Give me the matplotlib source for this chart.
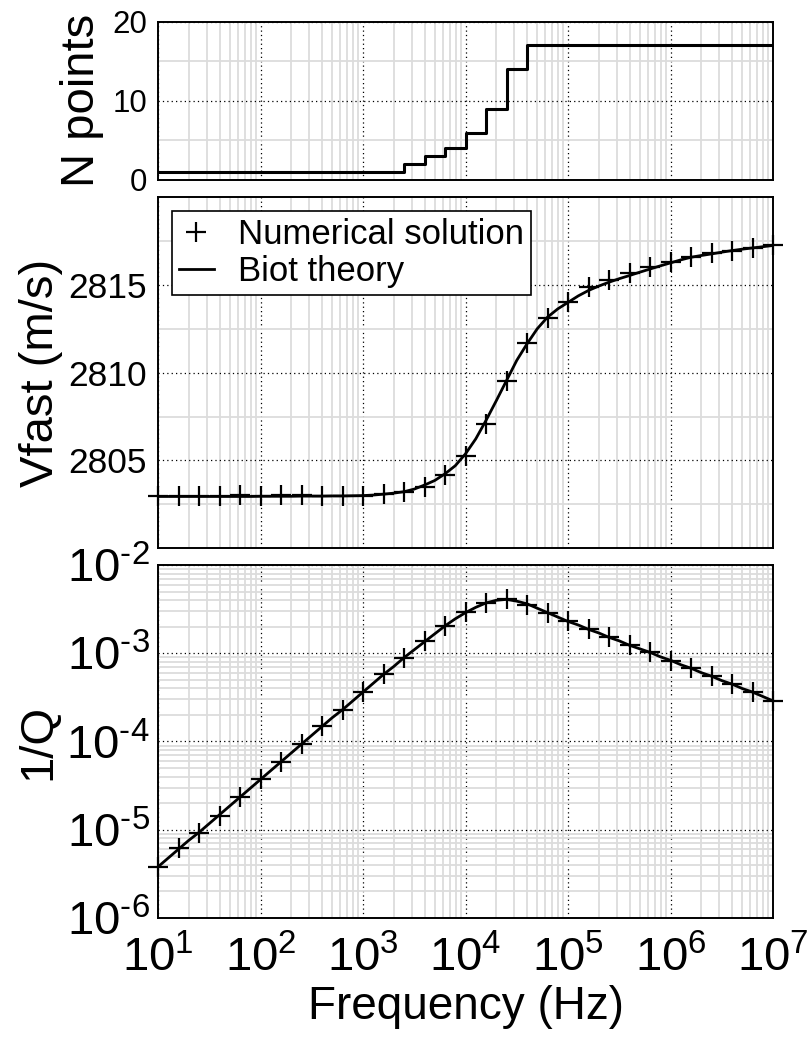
import numpy as np
import matplotlib
matplotlib.use("Agg")
import matplotlib.pyplot as plt
from matplotlib.ticker import FixedLocator, LogLocator, NullFormatter, FuncFormatter
from matplotlib.lines import Line2D

# ---------------------------------------------------------------- data
# sample frequencies of the numerical solution (0.2-decade spacing)
freq_num = np.logspace(1, 7, 31)
# frequencies of the analytical curve (0.1-decade spacing)
freq_biot = np.logspace(1, 7, 61)

# number of points per wavelength used at each frequency
n_points = [1, 1, 1, 1, 1, 1, 1, 1, 1, 1, 1, 1, 2, 3, 4, 6, 9, 14, 17, 17,
            17, 17, 17, 17, 17, 17, 17, 17, 17, 17, 17]

# fast P-wave velocity (m/s)
vfast_num = [2802.95, 2802.95, 2803.0, 2803.0, 2803.05, 2802.95, 2803.05, 2803.05,
             2803.0, 2802.95, 2803.0, 2803.1, 2803.2, 2803.5, 2804.15, 2805.25,
             2807.1, 2809.55, 2811.7, 2813.1, 2814.05, 2814.87, 2815.25, 2815.66,
             2816.0, 2816.3, 2816.57, 2816.8, 2816.95, 2817.1, 2817.25]
vfast_biot = [2802.95, 2802.95, 2802.95, 2802.95, 2802.95, 2802.95, 2802.95, 2802.95,
              2802.95, 2802.95, 2802.96, 2802.96, 2802.96, 2802.96, 2802.97, 2802.97,
              2802.97, 2802.98, 2802.98, 2802.99, 2803.0, 2803.03, 2803.08, 2803.14,
              2803.22, 2803.37, 2803.6, 2803.86, 2804.24, 2804.7, 2805.38, 2806.23,
              2807.28, 2808.4, 2809.55, 2810.7, 2811.64, 2812.5, 2813.16, 2813.63,
              2814.0, 2814.37, 2814.68, 2814.93, 2815.15, 2815.35, 2815.53, 2815.72,
              2815.9, 2816.08, 2816.25, 2816.42, 2816.57, 2816.67, 2816.76, 2816.86,
              2816.95, 2817.03, 2817.1, 2817.17, 2817.24]

# attenuation 1/Q, stored as log10 values
invq_num_log10 = [-5.42, -5.21, -5.04, -4.84, -4.63, -4.43, -4.23, -4.03, -3.83, -3.64,
                  -3.44, -3.24, -3.05, -2.86, -2.69, -2.53, -2.43, -2.39, -2.45, -2.54,
                  -2.63, -2.73, -2.82, -2.905, -2.99, -3.09, -3.17, -3.26, -3.35, -3.44,
                  -3.54]
invq_biot_log10 = [-5.42, -5.32, -5.22, -5.12, -5.03, -4.93, -4.83, -4.73, -4.63, -4.53,
                   -4.43, -4.33, -4.23, -4.13, -4.03, -3.93, -3.83, -3.73, -3.64, -3.54,
                   -3.44, -3.34, -3.24, -3.15, -3.05, -2.96, -2.87, -2.78, -2.69, -2.61,
                   -2.54, -2.48, -2.43, -2.40, -2.39, -2.41, -2.44, -2.49, -2.54, -2.59,
                   -2.64, -2.68, -2.73, -2.77, -2.82, -2.86, -2.91, -2.95, -2.99, -3.04,
                   -3.08, -3.13, -3.17, -3.22, -3.26, -3.31, -3.35, -3.40, -3.44, -3.49,
                   -3.54]

# ---------------------------------------------------------------- style
plt.rcParams['font.family'] = ['Liberation Sans', 'DejaVu Sans']
plt.rcParams['mathtext.fontset'] = 'custom'
plt.rcParams['mathtext.rm'] = 'Liberation Sans'
plt.rcParams['mathtext.it'] = 'Liberation Sans'
plt.rcParams['mathtext.default'] = 'regular'

BIG_FS = 34      # power-of-ten tick labels
LABEL_FS = 34    # axis labels
LW = 2.0
MS = 15
MEW = 1.6


def pow10(v, pos):
    """Power-of-ten label with a plain hyphen for negative exponents."""
    n = int(round(np.log10(v)))
    return r'$10^{\text{%d}}$' % n


def style_axes(ax):
    ax.set_xscale('log')
    ax.set_xlim(1e1, 1e7)
    ax.xaxis.set_major_locator(LogLocator(base=10, numticks=10))
    ax.xaxis.set_minor_locator(LogLocator(base=10, subs=np.arange(2, 10), numticks=20))
    ax.xaxis.set_minor_formatter(NullFormatter())
    ax.xaxis.set_major_formatter(FuncFormatter(pow10))
    ax.set_axisbelow(True)
    ax.grid(which='minor', color='#dcdcdc', linestyle='-', linewidth=1.3)
    ax.grid(which='major', color='black', linestyle=(0, (1, 2.5)), linewidth=0.9)
    ax.tick_params(which='both', direction='in', length=0)
    ax.tick_params(axis='x', pad=13)
    for s in ax.spines.values():
        s.set_linewidth(1.4)


fig = plt.figure(figsize=(8.12, 10.38), dpi=100)
left, width = 0.1946, 0.7574
ax1 = fig.add_axes([left, 0.8266, width, 0.1525])
ax2 = fig.add_axes([left, 0.4718, width, 0.3384])
ax3 = fig.add_axes([left, 0.1156, width, 0.3401])

# ---- top: number of points
style_axes(ax1)
ax1.step(freq_num, n_points, where='post', color='black', linewidth=2.2)
ax1.set_ylim(0, 20)
ax1.yaxis.set_major_locator(FixedLocator([0, 10, 20]))
ax1.yaxis.set_minor_locator(FixedLocator([5, 15]))
ax1.tick_params(axis='y', labelsize=22.5, pad=8)
ax1.tick_params(axis='x', labelbottom=False)
ax1.set_ylabel('N points', fontsize=LABEL_FS, labelpad=6)

# ---- middle: fast wave velocity
style_axes(ax2)
ax2.plot(freq_biot, vfast_biot, color='black', linewidth=LW)
ax2.plot(freq_num, vfast_num, linestyle='none', marker='+', markersize=MS,
         markeredgewidth=MEW, color='black', clip_on=False)
ax2.set_ylim(2800, 2820)
ax2.yaxis.set_major_locator(FixedLocator([2805, 2810, 2815]))
ax2.yaxis.set_minor_locator(FixedLocator([2802.5, 2807.5, 2812.5, 2817.5]))
ax2.tick_params(axis='y', labelsize=25.5, pad=8)
ax2.tick_params(axis='x', labelbottom=False)
ax2.set_ylabel('Vfast (m/s)', fontsize=LABEL_FS, labelpad=4)
handles = [Line2D([], [], linestyle='none', marker='+', markersize=MS,
                  markeredgewidth=MEW, color='black'),
           Line2D([], [], color='black', linewidth=LW)]
leg = ax2.legend(handles, ['Numerical solution', 'Biot theory'], loc='upper left',
                 fontsize=25, frameon=True, fancybox=False, framealpha=1,
                 edgecolor='black', handlelength=1.0, handletextpad=0.7,
                 borderpad=0.2, labelspacing=0.12, borderaxespad=0.4)
leg.get_frame().set_linewidth(1.2)

# ---- bottom: attenuation
style_axes(ax3)
ax3.set_yscale('log')
ax3.plot(freq_biot, 10.0 ** np.array(invq_biot_log10), color='black', linewidth=LW)
ax3.plot(freq_num, 10.0 ** np.array(invq_num_log10), linestyle='none', marker='+',
         markersize=MS, markeredgewidth=MEW, color='black', clip_on=False)
ax3.set_ylim(1e-6, 1e-2)
ax3.yaxis.set_major_locator(LogLocator(base=10, numticks=10))
ax3.yaxis.set_minor_locator(LogLocator(base=10, subs=np.arange(2, 10), numticks=20))
ax3.yaxis.set_minor_formatter(NullFormatter())
ax3.yaxis.set_major_formatter(FuncFormatter(pow10))
ax3.tick_params(axis='x', labelsize=BIG_FS)
ax3.tick_params(axis='y', labelsize=BIG_FS, pad=6)
ax3.set_ylabel('1/Q', fontsize=LABEL_FS, labelpad=4)
ax3.set_xlabel('Frequency (Hz)', fontsize=33, labelpad=3)

fig.savefig('out.png', dpi=100)
